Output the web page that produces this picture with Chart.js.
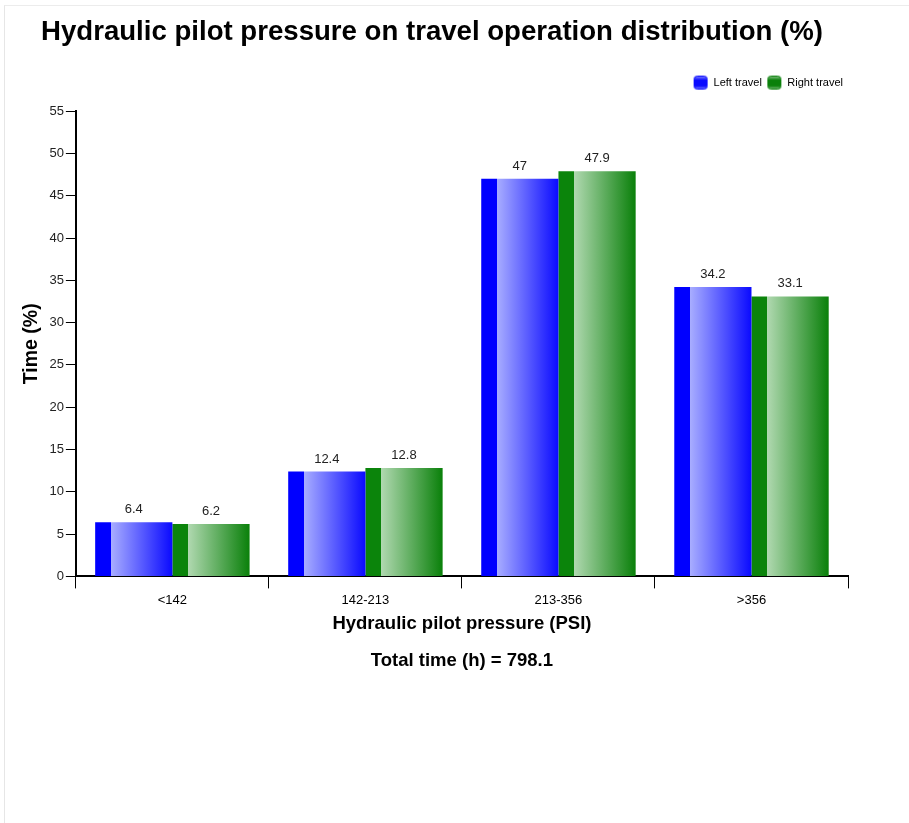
<!DOCTYPE html>
<html>
<head>
<meta charset="utf-8">
<script src="https://cdn.jsdelivr.net/npm/chart.js@4"></script>
<style>
  body { margin: 0; background: #fff; }
  .frame { position: absolute; left: 4px; top: 5px; width: 905px; height: 818px;
    border-left: 1px solid #e6e6e6; border-top: 1px solid #ececec; }
  .wrap { position: absolute; left: 0; top: 0; width: 870px; height: 823px; }
</style>
</head>
<body>
<div class="frame"></div>
<div class="wrap"><canvas id="chart"></canvas></div>
<script>
// data
const categories = ['<142', '142-213', '213-356', '>356'];
const leftTravel = [6.4, 12.4, 47, 34.2];
const rightTravel = [6.2, 12.8, 47.9, 33.1];
const totalTime = 798.1;

const FONT = '"Liberation Sans", Arial, sans-serif';

// colours: [strip, light, full]
const blueTones = ['#0000ff', '#a9aeff', '#0a0aff'];
const greenTones = ['#0b840b', '#b1d9b1', '#0a800a'];

function barGradient(context, tones) {
  const chart = context.chart;
  const area = chart.chartArea;
  if (!area) return tones[2];
  const catW = (area.right - area.left) / categories.length;
  const barW = catW * 0.8 / 2;
  const center = chart.scales.x.getPixelForValue(context.dataIndex);
  const x0 = center - catW * 0.4 + context.datasetIndex * barW;
  const g = chart.ctx.createLinearGradient(x0, 0, x0 + barW, 0);
  g.addColorStop(0, tones[0]);
  g.addColorStop(0.199, tones[0]);
  g.addColorStop(0.2, tones[1]);
  g.addColorStop(1, tones[2]);
  return g;
}

function legendIcon(tones) {
  const c = document.createElement('canvas');
  c.width = 16; c.height = 16;
  const x = c.getContext('2d');
  const g = x.createLinearGradient(0, 0, 0, 16);
  g.addColorStop(0, tones[1]);
  g.addColorStop(0.35, tones[2]);
  g.addColorStop(0.7, tones[2]);
  g.addColorStop(1, tones[1]);
  x.fillStyle = g;
  x.strokeStyle = tones[2];
  x.lineWidth = 1;
  x.beginPath();
  x.roundRect(1.5, 1.5, 13, 13, 3);
  x.fill();
  x.stroke();
  return c;
}

// extra room under the legend
const legendGap = {
  id: 'legendGap',
  beforeInit(chart) {
    const fit = chart.legend.fit;
    chart.legend.fit = function () {
      fit.bind(chart.legend)();
      this.height += 13;
    };
  }
};

// value labels above the bars
const valueLabels = {
  id: 'valueLabels',
  afterDatasetsDraw(chart) {
    const ctx = chart.ctx;
    ctx.save();
    ctx.font = '13px ' + FONT;
    ctx.fillStyle = '#222';
    ctx.textAlign = 'center';
    ctx.textBaseline = 'bottom';
    chart.data.datasets.forEach((ds, i) => {
      chart.getDatasetMeta(i).data.forEach((bar, j) => {
        ctx.fillText(String(ds.data[j]), bar.x, bar.y - 6);
      });
    });
    ctx.restore();
  }
};

new Chart(document.getElementById('chart'), {
  type: 'bar',
  data: {
    labels: categories,
    datasets: [{
      label: 'Left travel',
      data: leftTravel,
      backgroundColor: c => barGradient(c, blueTones),
      pointStyle: legendIcon(blueTones)
    }, {
      label: 'Right travel',
      data: rightTravel,
      backgroundColor: c => barGradient(c, greenTones),
      pointStyle: legendIcon(greenTones)
    }]
  },
  options: {
    responsive: true,
    maintainAspectRatio: false,
    animation: false,
    datasets: { bar: { categoryPercentage: 0.8, barPercentage: 1.0 } },
    layout: { padding: { left: 16, right: 22, top: 10, bottom: 140 } },
    plugins: {
      title: {
        display: true,
        text: 'Hydraulic pilot pressure on travel operation distribution (%)',
        color: '#000',
        font: { family: FONT, size: 27.6, weight: 'bold' },
        padding: { top: 6, bottom: 23 }
      },
      legend: {
        position: 'top',
        align: 'end',
        labels: {
          usePointStyle: true,
          pointStyleWidth: 15,
          color: '#000',
          font: { family: FONT, size: 11 },
          padding: 5
        }
      },
      tooltip: { enabled: false }
    },
    scales: {
      x: {
        grid: { offset: true, drawOnChartArea: false, color: '#000', tickLength: 12, lineWidth: 1 },
        border: { color: '#000', width: 2 },
        ticks: { color: '#000', font: { family: FONT, size: 13 }, padding: 4 },
        title: {
          display: true,
          text: ['Hydraulic pilot pressure (PSI)', 'Total time (h) = ' + totalTime],
          color: '#000',
          font: { family: FONT, size: 18.5, weight: 'bold', lineHeight: 2.0 },
          padding: { top: -7 }
        }
      },
      y: {
        min: 0,
        max: 55,
        grid: { drawOnChartArea: false, color: '#000', tickLength: 10 },
        border: { color: '#000', width: 2 },
        ticks: { stepSize: 5, color: '#222', font: { family: FONT, size: 13 }, padding: 2 },
        title: {
          display: true,
          text: 'Time (%)',
          color: '#000',
          font: { family: FONT, size: 19.5, weight: 'bold' },
          padding: { bottom: 4 }
        }
      }
    }
  },
  plugins: [legendGap, valueLabels]
});
</script>
</body>
</html>
